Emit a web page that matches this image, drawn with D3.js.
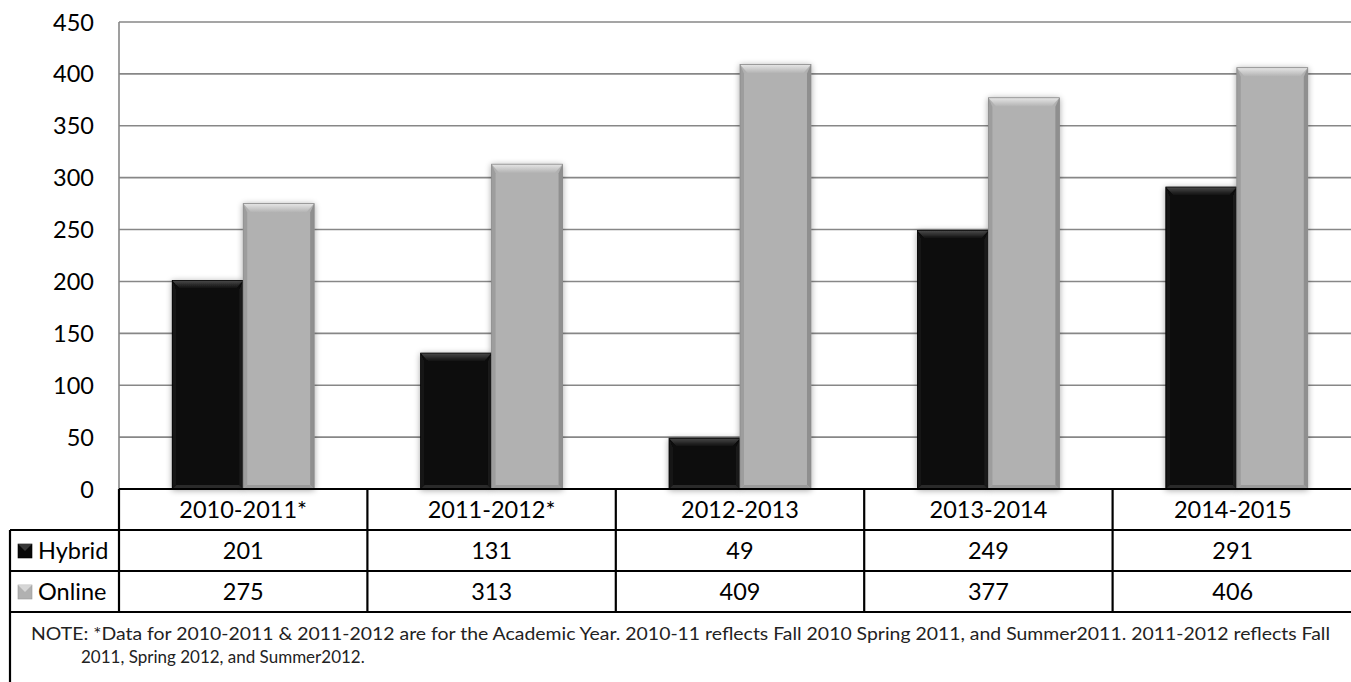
<!DOCTYPE html>
<html><head><meta charset="utf-8">
<script src="https://cdn.jsdelivr.net/npm/d3@7"></script>
<style>body{margin:0;background:#fff}svg{display:block}</style>
</head><body>
<script>
const categories = ["2010-2011*","2011-2012*","2012-2013","2013-2014","2014-2015"];
const seriesNames = ["Hybrid","Online"];
const hybrid = [201,131,49,249,291];
const online = [275,313,409,377,406];
const yTicks = [0,50,100,150,200,250,300,350,400,450];
const noteLines = ["NOTE: *Data for 2010-2011 & 2011-2012 are for the Academic Year. 2010-11 reflects Fall 2010 Spring 2011, and Summer2011. 2011-2012 reflects Fall",
                   "2011, Spring 2012, and Summer2012."];

const W=1351,H=682;
const svg=d3.select("body").append("svg").attr("width",W).attr("height",H);
const font="Lato, 'Open Sans', sans-serif";
const fs=23.5;
const seriesVals=[hybrid,online];
const colors={Hybrid:{base:"#080808",top:"#4a4a4a",side:"#1c1c1c",bot:"#2a2a2a"},
              Online:{base:"#b1b1b1",top:"#e6e6e6",side:"#8f8f8f",bot:"#9a9a9a"}};

const x=d3.scaleBand().domain(categories).range([119,1361]).padding(0);
const x1=d3.scaleBand().domain(seriesNames).range([0,x.bandwidth()]).paddingInner(0).paddingOuter(0.75);
const y=d3.scaleLinear().domain([0,450]).range([489,22]);

const defs=svg.append("defs");
const f=defs.append("filter").attr("id","sh").attr("x","-20%").attr("y","-20%").attr("width","140%").attr("height","140%");
f.append("feGaussianBlur").attr("in","SourceAlpha").attr("stdDeviation",3).attr("result","b");
f.append("feOffset").attr("in","b").attr("dx",0).attr("dy",1).attr("result","o");
f.append("feComponentTransfer").attr("in","o").attr("result","o2").append("feFuncA").attr("type","linear").attr("slope",0.35);
const m=f.append("feMerge");m.append("feMergeNode").attr("in","o2");m.append("feMergeNode").attr("in","SourceGraphic");

svg.append("g").selectAll("line").data(yTicks.filter(d=>d>0)).join("line")
  .attr("x1",119).attr("x2",W).attr("y1",d=>y(d)).attr("y2",d=>y(d))
  .attr("stroke","#878787").attr("stroke-width",1.6);
svg.append("line").attr("x1",119).attr("x2",119).attr("y1",y(450)).attr("y2",y(0))
  .attr("stroke","#878787").attr("stroke-width",1.6);

svg.append("g").selectAll("text").data(yTicks).join("text")
  .attr("x",94).attr("y",d=>y(d)+8.5).attr("text-anchor","end")
  .attr("font-family",font).attr("font-size",fs).attr("fill","#000").text(d=>d);

const bars=[];
categories.forEach((c,i)=>seriesNames.forEach((s,j)=>bars.push({c,s,v:seriesVals[j][i]})));
const g=svg.append("g");
bars.forEach(b=>{
  const x0=x(b.c)+x1(b.s), w=x1.bandwidth(), yt=y(b.v), yb=y(0), h=yb-yt;
  const col=colors[b.s];
  const bg=g.append("g").attr("filter","url(#sh)");
  bg.append("rect").attr("x",x0).attr("y",yt).attr("width",w).attr("height",h).attr("fill",col.base);
  const bt=Math.min(9,h/2), bs=4;
  const gid="gt"+b.s+b.c.replace(/[^0-9]/g,"");
  const lg=defs.append("linearGradient").attr("id",gid).attr("x1",0).attr("y1",0).attr("x2",0).attr("y2",1);
  lg.append("stop").attr("offset",0).attr("stop-color",col.top);
  lg.append("stop").attr("offset",1).attr("stop-color",col.base);
  bg.append("path").attr("d",`M${x0},${yt}L${x0+w},${yt}L${x0+w-bs-4},${yt+bt}L${x0+bs+4},${yt+bt}Z`).attr("fill",`url(#${gid})`);
  bg.append("path").attr("d",`M${x0},${yt}L${x0+bs},${yt+bt}L${x0+bs},${yb-4}L${x0},${yb}Z`).attr("fill",col.side).attr("opacity",0.6);
  bg.append("path").attr("d",`M${x0+w},${yt}L${x0+w-bs},${yt+bt}L${x0+w-bs},${yb-4}L${x0+w},${yb}Z`).attr("fill",col.side);
  bg.append("path").attr("d",`M${x0},${yb}L${x0+bs},${yb-4}L${x0+w-bs},${yb-4}L${x0+w},${yb}Z`).attr("fill",col.bot);
  bg.append("rect").attr("x",x0).attr("y",yt).attr("width",w).attr("height",h).attr("fill","none").attr("stroke",b.s==="Online"?"#8a8a8a":"#000").attr("stroke-width",0.8);
});

const rowY=[489,530,571,612];
const t=svg.append("g").attr("stroke","#000").attr("stroke-width",2.2);
t.append("line").attr("x1",119).attr("x2",W).attr("y1",rowY[0]).attr("y2",rowY[0]);
[1,2,3].forEach(k=>t.append("line").attr("x1",10).attr("x2",W).attr("y1",rowY[k]).attr("y2",rowY[k]));
t.append("line").attr("x1",10).attr("x2",10).attr("y1",rowY[1]).attr("y2",H);
t.append("line").attr("x1",119).attr("x2",119).attr("y1",rowY[0]).attr("y2",rowY[3]);
categories.forEach((c,i)=>{ if(i>0) t.append("line").attr("x1",x(c)).attr("x2",x(c)).attr("y1",rowY[0]).attr("y2",rowY[3]); });

const tx=svg.append("g").attr("font-family",font).attr("font-size",fs).attr("fill","#000").attr("text-anchor","middle");
categories.forEach((c,i)=>{
  const cx = x(c)+x.bandwidth()/2 - (i===4?4:0);
  tx.append("text").attr("x",cx).attr("y",rowY[0]+29).text(c);
  tx.append("text").attr("x",cx).attr("y",rowY[1]+29).text(hybrid[i]);
  tx.append("text").attr("x",cx).attr("y",rowY[2]+29).text(online[i]);
});
seriesNames.forEach((s,j)=>{
  const yy=rowY[j+1];
  const col=colors[s];
  svg.append("rect").attr("x",18).attr("y",yy+14).attr("width",14).attr("height",14).attr("fill",col.base).attr("stroke",s==="Online"?"#999":"#000").attr("stroke-width",0.6);
  svg.append("path").attr("d",`M18,${yy+14}L32,${yy+14}L25,${yy+21}Z`).attr("fill",col.top).attr("opacity",0.7);
  svg.append("text").attr("x",38).attr("y",yy+29).attr("font-family",font).attr("font-size",fs).text(s);
});

svg.append("text").attr("x",31).attr("y",640).attr("font-family",font).attr("font-size",17).attr("fill","#222")
  .attr("textLength",1299).attr("lengthAdjust","spacingAndGlyphs").text(noteLines[0]);
svg.append("text").attr("x",81).attr("y",663).attr("font-family",font).attr("font-size",17).attr("fill","#222")
  .text(noteLines[1]);
</script>
</body></html>
